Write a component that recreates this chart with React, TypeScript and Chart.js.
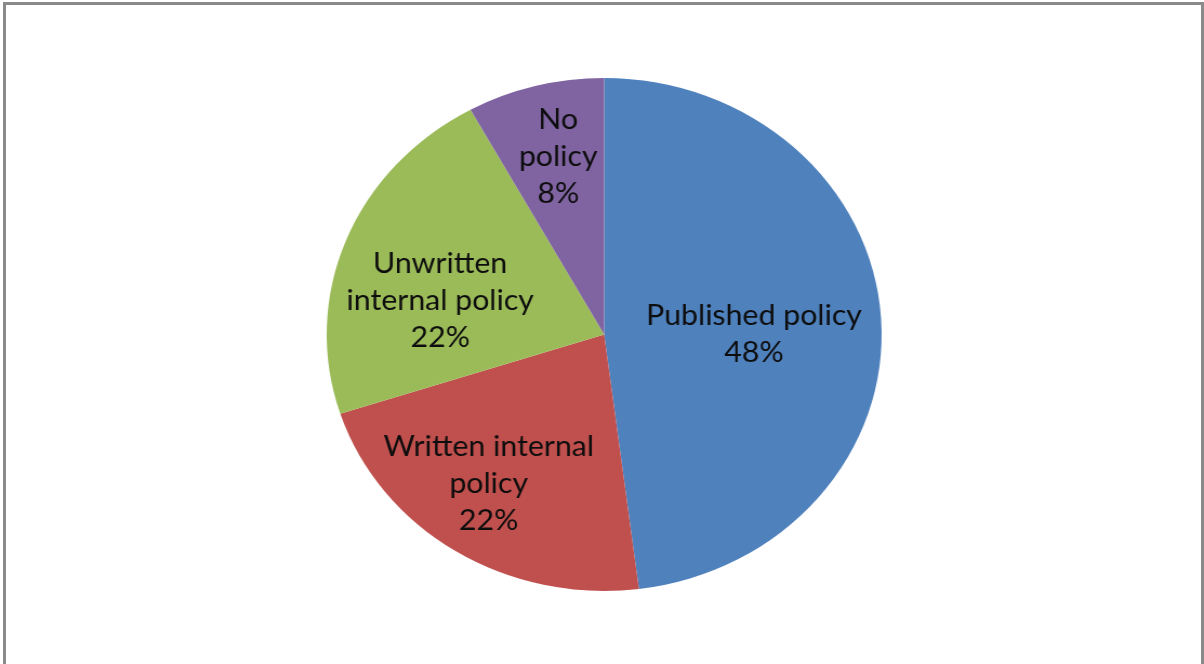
import { useEffect, useRef } from "react";
import { Chart, registerables } from "chart.js";

Chart.register(...registerables);

// Survey answers: which kind of policy the organisation has
const categories = ["Published policy", "Written internal policy", "Unwritten internal policy", "No policy"];
const labelLines = [["Published policy"], ["Written internal", "policy"], ["Unwritten", "internal policy"], ["No", "policy"]];
const shares = [48, 22, 22, 8];
const sliceColors = ["#4F81BD", "#C0504D", "#9BBB59", "#8064A2"];

// Where each label sits inside its slice: fraction of the radius and a small turn (degrees)
const labelPlacement = [
  { r: 0.54, turn: 3.6 },
  { r: 0.715, turn: 3.2 },
  { r: 0.605, turn: -9.3 },
  { r: 0.71, turn: 0.9 },
];

const LABEL_FONT = "28px Lato";
const LINE_HEIGHT = 37;
const STRETCH = 1.082; // the drawing is widened horizontally by this factor
const PLOT_W = Math.round(1204 / STRETCH);

const sliceLabels = {
  id: "sliceLabels",
  afterDatasetsDraw(chart: any) {
    const ctx = chart.ctx as CanvasRenderingContext2D;
    const meta = chart.getDatasetMeta(0);
    meta.data.forEach((arc: any, i: number) => {
      const { x, y, startAngle, endAngle, outerRadius } = arc.getProps(
        ["x", "y", "startAngle", "endAngle", "outerRadius"],
        true
      );
      const place = labelPlacement[i];
      const mid = (startAngle + endAngle) / 2 + (place.turn * Math.PI) / 180;
      const d = outerRadius * place.r;
      const cx = x + Math.cos(mid) * d;
      const cy = y + Math.sin(mid) * d;
      const lines = [...labelLines[i], `${shares[i]}%`];
      ctx.save();
      ctx.font = LABEL_FONT;
      ctx.fillStyle = "#0d0d0d";
      ctx.textAlign = "center";
      ctx.textBaseline = "middle";
      lines.forEach((line, k) => {
        ctx.fillText(line, cx, cy + (k - (lines.length - 1) / 2) * LINE_HEIGHT);
      });
      ctx.restore();
    });
  },
};

export default function App() {
  const canvasRef = useRef<HTMLCanvasElement | null>(null);

  useEffect(() => {
    if (!canvasRef.current) return;
    const chart = new Chart(canvasRef.current, {
      type: "pie",
      data: {
        labels: categories,
        datasets: [
          {
            data: shares,
            backgroundColor: sliceColors,
            borderWidth: 0,
          },
        ],
      },
      options: {
        animation: false,
        responsive: true,
        maintainAspectRatio: false,
        layout: { padding: { top: 78, bottom: 73, left: 302, right: 298 } },
        plugins: {
          legend: { display: false },
          tooltip: { enabled: false },
        },
      },
      plugins: [sliceLabels],
    });
    return () => chart.destroy();
  }, []);

  return (
    <div
      style={{
        position: "absolute",
        left: 0,
        top: 0,
        width: 1204,
        height: 664,
        overflow: "hidden",
        background: "#ffffff",
      }}
    >
      <div
        style={{
          position: "absolute",
          left: 0,
          top: 0,
          width: PLOT_W,
          height: 664,
          transform: `scaleX(${1204 / PLOT_W})`,
          transformOrigin: "0 0",
        }}
      >
        <canvas ref={canvasRef} />
      </div>
      <div
        style={{
          position: "absolute",
          left: 3,
          top: 2,
          width: 1201,
          height: 700,
          boxSizing: "border-box",
          border: "3px solid #8a8a8a",
          pointerEvents: "none",
        }}
      />
    </div>
  );
}
